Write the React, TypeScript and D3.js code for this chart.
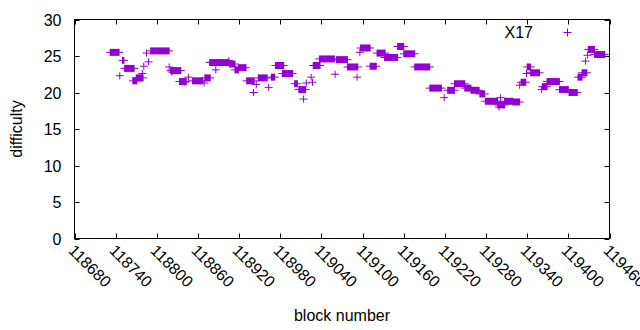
import React, { useEffect, useRef } from 'react'
import * as d3 from 'd3'

// runs of consecutive blocks with the same difficulty (start block, end block, difficulty)
// a single block is a run with start == end
const runStart = [
  118732, 118750, 118746, 118753, 118765, 118770, 118781, 118779, 118785, 118788,
  118791, 118818, 118822, 118820, 118833, 118846, 118841, 118852, 118869, 118870,
  118877, 118886, 118887, 118905, 118906, 118914, 118919, 118931, 118941, 118945,
  118948, 118963, 118967, 118973, 118983, 119001, 119007, 119014, 119018, 119025,
  119027, 119028, 119037, 119060, 119062, 119078, 119092, 119096, 119097, 119111,
  119121, 119132, 119151, 119160, 119176, 119198, 119219, 119224, 119234, 119249,
  119258, 119271, 119279, 119297, 119299, 119301, 119307, 119319, 119329, 119331,
  119339, 119340, 119345, 119361, 119362, 119369, 119387, 119401, 119414, 119420,
  119425, 119428, 119429, 119438,
]
const runEnd = [
  118745, 118752, 118746, 118767, 118771, 118780, 118781, 118779, 118785, 118788,
  118818, 118818, 118822, 118835, 118843, 118846, 118841, 118867, 118869, 118878,
  118887, 118886, 118905, 118905, 118914, 118919, 118930, 118942, 118941, 118945,
  118961, 118963, 118972, 118985, 118998, 119005, 119017, 119014, 119018, 119025,
  119027, 119038, 119059, 119060, 119078, 119093, 119092, 119096, 119111, 119120,
  119133, 119151, 119160, 119176, 119198, 119215, 119219, 119234, 119249, 119258,
  119270, 119278, 119297, 119307, 119299, 119301, 119319, 119329, 119329, 119338,
  119339, 119345, 119358, 119361, 119369, 119387, 119400, 119413, 119420, 119427,
  119425, 119428, 119438, 119453,
]
const runDiff = [
  25.5, 24.4, 22.3, 23.3, 21.6, 22.0, 23.6, 22.6, 25.4, 24.2,
  25.7, 23.5, 22.8, 23.0, 21.5, 22.1, 21.4, 21.6, 21.3, 22.0,
  24.1, 23.1, 24.1, 24.4, 23.9, 23.1, 23.4, 21.6, 20.0, 21.1,
  22.0, 20.7, 22.1, 23.7, 22.6, 21.2, 20.4, 19.1, 21.3, 22.1,
  21.4, 23.7, 24.6, 22.5, 24.5, 23.5, 22.1, 25.5, 26.1, 23.6,
  25.4, 24.8, 26.3, 25.3, 23.5, 20.6, 19.3, 20.3, 21.2, 20.6,
  20.3, 19.8, 18.8, 18.3, 18.0, 19.3, 18.8, 18.7, 21.0, 21.4,
  22.6, 23.5, 22.7, 20.4, 20.8, 21.5, 20.4, 20.0, 22.1, 22.7,
  24.3, 25.1, 25.9, 25.2,
]

const xTicks = d3.range(118680, 119461, 60)
const yTicks = [0, 5, 10, 15, 20, 25, 30]

const W = 640
const H = 330
const left = 74.5
const right = 609.5
const top = 19.5
const bottom = 238.5
const color = '#9400d3'
const font = 'Liberation Sans, Arial, sans-serif'
const ps = 3.5 // half size of the + marker

export default function App() {
  const ref = useRef<SVGSVGElement>(null)

  useEffect(() => {
    const svg = d3.select(ref.current)
    svg.selectAll('*').remove()

    const x = d3.scaleLinear().domain([118680, 119460]).range([left, right])
    const y = d3.scaleLinear().domain([0, 30]).range([bottom, top])

    const g = svg.append('g')

    // tick marks, mirrored on top and right like gnuplot
    xTicks.forEach((t) => {
      const px = Math.round(x(t)) + 0.5
      g.append('line').attr('x1', px).attr('x2', px).attr('y1', bottom).attr('y2', bottom - 5)
        .attr('stroke', 'black')
      g.append('line').attr('x1', px).attr('x2', px).attr('y1', top).attr('y2', top + 5)
        .attr('stroke', 'black')
      g.append('text')
        .attr('transform', `translate(${px - 4},${bottom + 9}) rotate(45)`)
        .attr('dy', '0.35em')
        .attr('font-family', font)
        .attr('font-size', 16)
        .attr('fill', 'black')
        .text(t)
    })
    yTicks.forEach((t) => {
      const py = Math.round(y(t)) + 0.5
      g.append('line').attr('x1', left).attr('x2', left + 5).attr('y1', py).attr('y2', py)
        .attr('stroke', 'black')
      g.append('line').attr('x1', right).attr('x2', right - 5).attr('y1', py).attr('y2', py)
        .attr('stroke', 'black')
      g.append('text')
        .attr('x', left - 13)
        .attr('y', py)
        .attr('dy', '0.35em')
        .attr('text-anchor', 'end')
        .attr('font-family', font)
        .attr('font-size', 16)
        .text(t)
    })

    // data: each run drawn as overlapping + marks -> filled block with whiskers
    const idx = d3.range(runStart.length)
    const marks = g.append('g')
    marks.selectAll('rect.run')
      .data(idx)
      .enter()
      .append('rect')
      .attr('class', 'run')
      .attr('x', (i) => x(runStart[i]) - 0.5)
      .attr('width', (i) => x(runEnd[i]) - x(runStart[i]) + 1)
      .attr('y', (i) => y(runDiff[i]) - ps)
      .attr('height', ps * 2)
      .attr('fill', color)
    marks.selectAll('line.run')
      .data(idx)
      .enter()
      .append('line')
      .attr('class', 'run')
      .attr('x1', (i) => x(runStart[i]) - ps - 0.5)
      .attr('x2', (i) => x(runEnd[i]) + ps + 0.5)
      .attr('y1', (i) => y(runDiff[i]))
      .attr('y2', (i) => y(runDiff[i]))
      .attr('stroke', color)
      .attr('stroke-width', 1)

    // frame
    g.append('rect')
      .attr('x', left).attr('y', top)
      .attr('width', right - left).attr('height', bottom - top)
      .attr('fill', 'none').attr('stroke', 'black')

    // legend
    g.append('text')
      .attr('x', 533).attr('y', 32).attr('dy', '0.35em')
      .attr('text-anchor', 'end')
      .attr('font-family', font).attr('font-size', 16)
      .text('X17')
    const lx = 567.5
    const ly = 32.5
    g.append('path')
      .attr('d', `M${lx - ps - 0.5},${ly}H${lx + ps + 0.5}M${lx},${ly - ps - 0.5}V${ly + ps + 0.5}`)
      .attr('stroke', color)

    // axis titles
    g.append('text')
      .attr('transform', `translate(22,${(top + bottom) / 2}) rotate(-90)`)
      .attr('text-anchor', 'middle')
      .attr('font-family', font).attr('font-size', 16)
      .text('difficulty')
    g.append('text')
      .attr('x', (left + right) / 2)
      .attr('y', 321)
      .attr('text-anchor', 'middle')
      .attr('font-family', font).attr('font-size', 16)
      .text('block number')
  }, [])

  return (
    <svg
      ref={ref}
      width={W}
      height={H}
      style={{ position: 'absolute', left: 0, top: 0, background: 'white' }}
    />
  )
}
